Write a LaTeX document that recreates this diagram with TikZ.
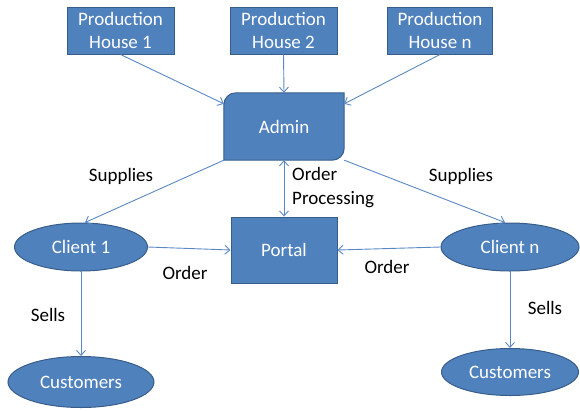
\documentclass[tikz,border=0pt]{standalone}
\usepackage{fontspec}
\setmainfont{Carlito}
\usetikzlibrary{arrows.meta,shapes.geometric,backgrounds}
\definecolor{boxfill}{HTML}{4F81BD}
\definecolor{boxline}{HTML}{385D8A}
\definecolor{arrowc}{HTML}{5A88C4}
\begin{document}
\begin{tikzpicture}[x=1pt,y=1pt,
  every node/.style={font=\fontsize{19}{23.5}\selectfont},
  blockbox/.style={rectangle, fill=boxfill, draw=boxline, line width=1pt, text=white, align=center, inner sep=0pt},
  ovalbox/.style={ellipse, fill=boxfill, draw=boxline, line width=1pt, text=white, inner sep=0pt},
  tip/.tip={Straight Barb[length=5pt,width=9pt,line width=0.9pt]},
  conn/.style={draw=arrowc, line width=0.9pt, -tip},
  conntwo/.style={draw=arrowc, line width=0.9pt, tip-tip},
  lbl/.style={text=black, inner sep=0pt}]
\useasboundingbox (0,0) rectangle (580,-410);

% top row
\node[blockbox, minimum width=107pt, minimum height=47pt] (PH1) at (120.5,-30.5) {Production\\House 1};
\node[blockbox, minimum width=107pt, minimum height=47pt] (PH2) at (283.5,-30.5) {Production\\House 2};
\node[blockbox, minimum width=105pt, minimum height=47pt] (PHn) at (440,-30.5) {Production\\House n};

% admin
\node[text=white, minimum width=120pt, minimum height=67pt, inner sep=0pt] (Admin) at (284,-126.5) {Admin};
\begin{scope}[on background layer]
\filldraw[fill=boxfill, draw=boxline, line width=1pt]
  (Admin.south west) -- ([yshift=-12pt]Admin.north west)
  arc[start angle=180, end angle=90, radius=12pt]
  -- (Admin.north east) -- ([yshift=12pt]Admin.south east)
  arc[start angle=0, end angle=-90, radius=12pt] -- cycle;
\end{scope}

% portal
\node[blockbox, minimum width=106pt, minimum height=66pt] (Portal) at (284,-250) {Portal};

% clients
\node[ovalbox, minimum width=133pt, minimum height=48pt] (C1) at (81,-247) {Client 1};
\node[ovalbox, minimum width=138pt, minimum height=48pt] (Cn) at (510,-247) {Client n};

% customers
\node[ovalbox, minimum width=146pt, minimum height=51pt] (Cu1) at (81,-382) {Customers};
\node[ovalbox, minimum width=137pt, minimum height=47pt] (Cun) at (510,-372) {Customers};

% connectors
\draw[conn] (PH1.south) -- ([yshift=-11pt]Admin.north west);
\draw[conn] (PH2.south) -- (Admin.north);
\draw[conn] (PHn.south) -- ([yshift=-11pt]Admin.north east);
\draw[conn] (Admin.south west) -- ([xshift=4pt]C1.north);
\draw[conn] (Admin.south east) -- ([xshift=-5pt]Cn.north);
\draw[conntwo] (Admin.south) -- (Portal.north);
\draw[conn] (C1.east) -- (Portal.west);
\draw[conn] (Cn.west) -- (Portal.east);
\draw[conn] (C1.south) -- (Cu1.north);
\draw[conn] (Cn.south) -- (Cun.north);

% labels
\node[lbl] (lsup1) at (121,-176) {Supplies};
\node[lbl] (lsup2) at (461,-176) {Supplies};
\node[lbl, align=left, anchor=west] (lproc) at (292,-187.5) {Order\\Processing};
\node[lbl] (lord1) at (185,-273) {Order};
\node[lbl] (lord2) at (387,-267) {Order};
\node[lbl] (lsell1) at (48,-315) {Sells};
\node[lbl] (lsell2) at (545,-308) {Sells};
\end{tikzpicture}
\end{document}
